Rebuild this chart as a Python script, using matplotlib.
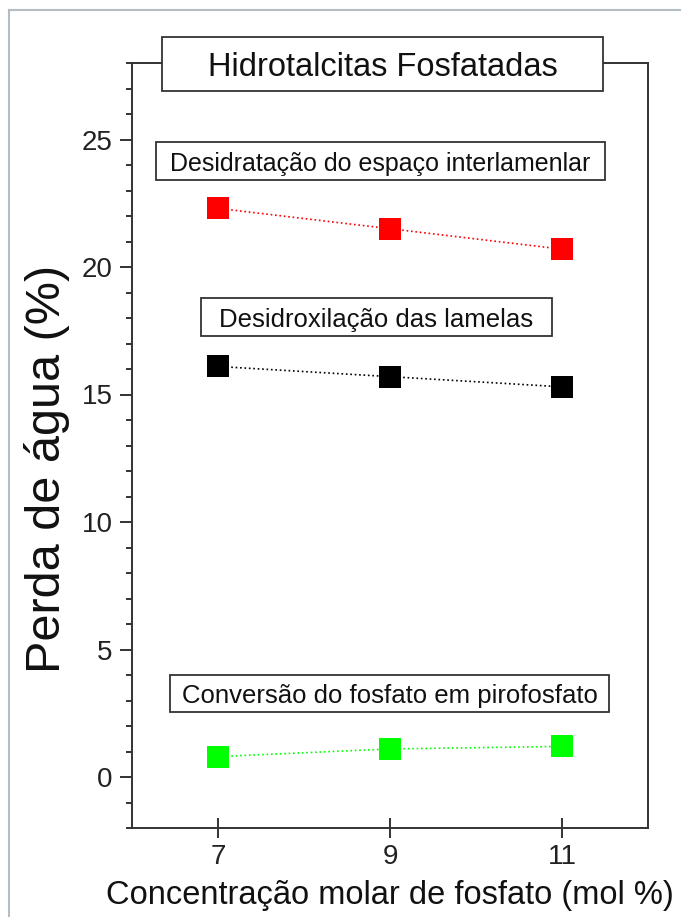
import matplotlib.pyplot as plt
from matplotlib.patches import Rectangle
from matplotlib.lines import Line2D
from matplotlib.ticker import MultipleLocator

plt.rcParams['font.family'] = ['Liberation Sans', 'DejaVu Sans']

# concentração molar de fosfato (mol %)
conc = [7, 9, 11]
# perda de água (%)
desidratacao = [22.3, 21.5, 20.7]
desidroxilacao = [16.1, 15.7, 15.3]
conversao = [0.8, 1.1, 1.2]

W, H = 681, 917
fig = plt.figure(figsize=(W / 100, H / 100), dpi=100)
ax = fig.add_axes([132 / W, 1 - 828 / H, (648 - 132) / W, (828 - 63) / H])

series = [(desidratacao, '#ff0000'), (desidroxilacao, '#000000'), (conversao, '#00ff00')]
for vals, cor in series:
    ax.plot(conc, vals, ls=':', lw=1.2, color=cor,
            marker='s', ms=16.5, mfc=cor, mec=cor, mew=0)

ax.set_xlim(6, 12)
ax.set_ylim(-2, 28)
ax.set_xticks(conc)
ax.yaxis.set_major_locator(MultipleLocator(5))
ax.yaxis.set_minor_locator(MultipleLocator(1))
ax.set_yticks(range(0, 30, 5))
ax.set_yticklabels(['0', '5', '10', '15', '20', '25'])

for s in ax.spines.values():
    s.set_color('#333333')
    s.set_linewidth(1.4)
ax.tick_params(axis='y', which='major', direction='out', length=9, width=1.4,
               color='#333333', labelsize=20, pad=5, labelcolor='#222222')
ax.tick_params(axis='y', which='minor', direction='out', length=4.5, width=1.4,
               color='#333333')
ax.tick_params(axis='x', which='major', direction='inout', length=15, width=1.4,
               color='#333333', labelsize=20, pad=4, labelcolor='#222222')

ax.set_ylabel('Perda de água (%)', fontsize=35, color='#111111')
ax.yaxis.set_label_coords(-0.12, 0.47)
ax.set_xlabel('Concentração molar de fosfato (mol %)', fontsize=23.5, color='#111111')
ax.xaxis.set_label_coords(0.5, -0.068)


def caixa(x0, y0, x1, y1, texto, tam):
    # caixa em pixels da figura (origem no topo)
    r = Rectangle((x0 / W, 1 - y1 / H), (x1 - x0) / W, (y1 - y0) / H,
                  transform=fig.transFigure, facecolor='white',
                  edgecolor='#333333', lw=1.3, zorder=5)
    fig.patches.append(r)
    fig.text((x0 + x1) / 2 / W, 1 - (y0 + y1) / 2 / H, texto, fontsize=tam,
             ha='center', va='center_baseline', color='#111111', zorder=6)


caixa(162, 37, 603, 91, 'Hidrotalcitas Fosfatadas', 23.5)
caixa(156, 142, 605, 180, 'Desidratação do espaço interlamenlar', 18)
caixa(201, 298, 552, 336, 'Desidroxilação das lamelas', 18.5)
caixa(170, 675, 609, 712, 'Conversão do fosfato em pirofosfato', 18.5)

# moldura cinza da imagem original
fig.lines.append(Line2D([9 / W, 9 / W], [0, 1 - 10 / H], transform=fig.transFigure,
                        color='#b4bcc4', lw=1.5))
fig.lines.append(Line2D([9 / W, 1], [1 - 10 / H, 1 - 10 / H], transform=fig.transFigure,
                        color='#b4bcc4', lw=1.5))

fig.savefig('out.png', dpi=100)
